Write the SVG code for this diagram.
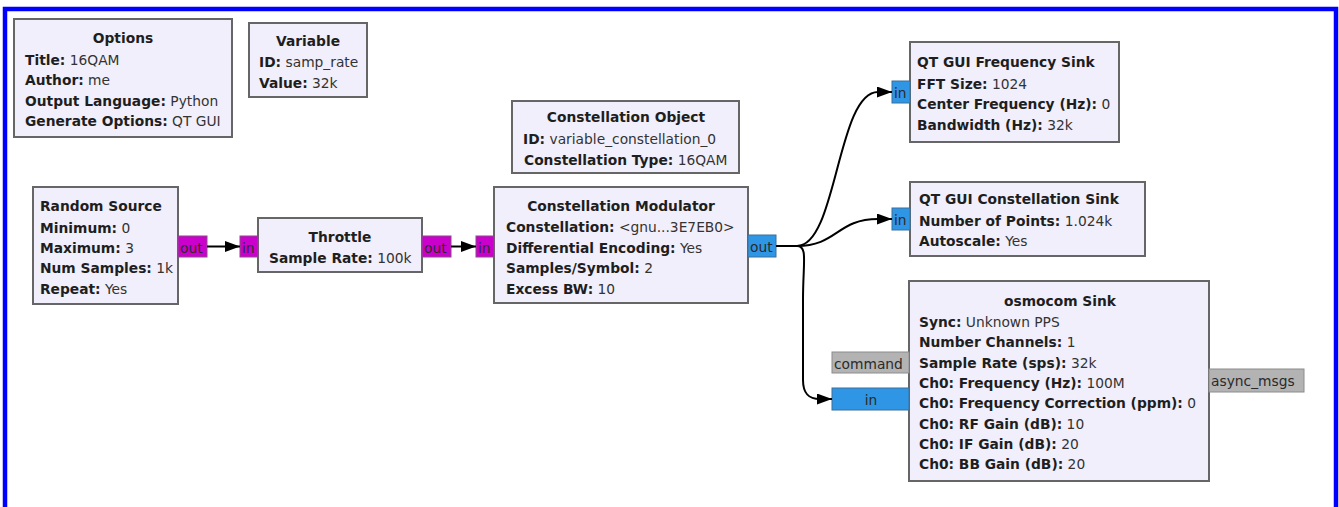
<svg xmlns="http://www.w3.org/2000/svg" width="1339" height="507" viewBox="0 0 1339 507">
  <defs>
    <marker id="arrow" viewBox="0 0 15 11" refX="15" refY="5.5" markerWidth="15" markerHeight="11" markerUnits="userSpaceOnUse" orient="auto">
      <path d="M0,0 L15,5.5 L0,11 Z" fill="#000"/>
    </marker>
  </defs>
  <style>
    text { font-family: "DejaVu Sans", "Liberation Sans", sans-serif; font-size: 13.8px; fill: #1e1e1e; }
    .blk rect { fill: #f1effb; stroke: #666; stroke-width: 2; }
    .t { font-weight: bold; text-anchor: middle; }
    .k { font-weight: bold; }
    .v { fill: #333; }
    .blk rect.pm { fill: #cc00cc; stroke: #8a4a8a; stroke-width: 1; }
    .blk rect.pc { fill: #2f96e6; stroke: #3a6f99; stroke-width: 1; }
    .blk rect.pg { fill: #b3b3b3; stroke: #8c8c8c; stroke-width: 1; }
    .pt { fill: #2a2a2a; }
    .wire { fill: none; stroke: #000; stroke-width: 2; }
  </style>

  <rect x="0" y="0" width="1339" height="507" fill="#fff"/>
  <rect id="frame" x="5" y="9" width="1331" height="510" fill="none" stroke="#0000ff" stroke-width="4.5"/>

  <g id="options" class="blk">
    <rect x="14" y="19" width="218" height="118"/>
    <text class="t" x="123" y="43">Options</text>
    <text x="25" y="64.5"><tspan class="k">Title:</tspan><tspan class="v"> 16QAM</tspan></text>
    <text x="25" y="85"><tspan class="k">Author:</tspan><tspan class="v"> me</tspan></text>
    <text x="25" y="105.5"><tspan class="k">Output Language:</tspan><tspan class="v"> Python</tspan></text>
    <text x="25" y="126"><tspan class="k">Generate Options:</tspan><tspan class="v"> QT GUI</tspan></text>
  </g>

  <g id="variable" class="blk">
    <rect x="249" y="23" width="118" height="74"/>
    <text class="t" x="308" y="46">Variable</text>
    <text x="259" y="67"><tspan class="k">ID:</tspan><tspan class="v"> samp_rate</tspan></text>
    <text x="259" y="87.5"><tspan class="k">Value:</tspan><tspan class="v"> 32k</tspan></text>
  </g>

  <g id="constellation_object" class="blk">
    <rect x="512" y="101" width="227" height="72"/>
    <text class="t" x="626" y="122">Constellation Object</text>
    <text x="523" y="144"><tspan class="k">ID:</tspan><tspan class="v"> variable_constellation_0</tspan></text>
    <text x="524" y="165"><tspan class="k">Constellation Type:</tspan><tspan class="v"> 16QAM</tspan></text>
  </g>

  <g id="random_source" class="blk">
    <rect x="33" y="187" width="145" height="117"/>
    <text x="40" y="211" class="k">Random Source</text>
    <text x="40" y="232.5"><tspan class="k">Minimum:</tspan><tspan class="v"> 0</tspan></text>
    <text x="40" y="253"><tspan class="k">Maximum:</tspan><tspan class="v"> 3</tspan></text>
    <text x="40" y="273"><tspan class="k">Num Samples:</tspan><tspan class="v"> 1k</tspan></text>
    <text x="40" y="293.5"><tspan class="k">Repeat:</tspan><tspan class="v"> Yes</tspan></text>
    <rect class="pm" x="178" y="236" width="29" height="21"/>
    <text class="pt" x="180" y="252.5">out</text>
  </g>

  <g id="throttle" class="blk">
    <rect x="258" y="218" width="164" height="54"/>
    <text class="t" x="340" y="242">Throttle</text>
    <text x="269" y="263"><tspan class="k">Sample Rate:</tspan><tspan class="v"> 100k</tspan></text>
    <rect class="pm" x="240" y="236" width="18" height="21"/>
    <text class="pt" x="242" y="252.5">in</text>
    <rect class="pm" x="422" y="236" width="29" height="21"/>
    <text class="pt" x="424" y="252.5">out</text>
  </g>

  <g id="constellation_modulator" class="blk">
    <rect x="494" y="187" width="254" height="116"/>
    <text class="t" x="621" y="211">Constellation Modulator</text>
    <text x="506" y="232"><tspan class="k">Constellation:</tspan><tspan class="v"> &lt;gnu...3E7EB0&gt;</tspan></text>
    <text x="506" y="252.5"><tspan class="k">Differential Encoding:</tspan><tspan class="v"> Yes</tspan></text>
    <text x="506" y="273"><tspan class="k">Samples/Symbol:</tspan><tspan class="v"> 2</tspan></text>
    <text x="506" y="293.5"><tspan class="k">Excess BW:</tspan><tspan class="v"> 10</tspan></text>
    <rect class="pm" x="476" y="236" width="18" height="21"/>
    <text class="pt" x="478" y="252.5">in</text>
    <rect class="pc" x="748" y="235" width="28" height="22"/>
    <text class="pt" x="750" y="252">out</text>
  </g>

  <g id="qtgui_freq_sink" class="blk">
    <rect x="910" y="42" width="209" height="100"/>
    <text x="917" y="67" class="k">QT GUI Frequency Sink</text>
    <text x="917" y="88.5"><tspan class="k">FFT Size:</tspan><tspan class="v"> 1024</tspan></text>
    <text x="917" y="109"><tspan class="k">Center Frequency (Hz):</tspan><tspan class="v"> 0</tspan></text>
    <text x="917" y="129.5"><tspan class="k">Bandwidth (Hz):</tspan><tspan class="v"> 32k</tspan></text>
    <rect class="pc" x="892" y="81" width="18" height="22"/>
    <text class="pt" x="894" y="97.5">in</text>
  </g>

  <g id="qtgui_const_sink" class="blk">
    <rect x="910" y="182" width="235" height="74"/>
    <text x="919" y="204" class="k">QT GUI Constellation Sink</text>
    <text x="919" y="225.5"><tspan class="k">Number of Points:</tspan><tspan class="v"> 1.024k</tspan></text>
    <text x="919" y="246"><tspan class="k">Autoscale:</tspan><tspan class="v"> Yes</tspan></text>
    <rect class="pc" x="892" y="208" width="18" height="22"/>
    <text class="pt" x="894" y="224.5">in</text>
  </g>

  <g id="osmocom_sink" class="blk">
    <rect x="909" y="281" width="300" height="200"/>
    <text class="t" x="1060" y="306">osmocom Sink</text>
    <text x="919" y="327"><tspan class="k">Sync:</tspan><tspan class="v"> Unknown PPS</tspan></text>
    <text x="919" y="347"><tspan class="k">Number Channels:</tspan><tspan class="v"> 1</tspan></text>
    <text x="919" y="367.5"><tspan class="k">Sample Rate (sps):</tspan><tspan class="v"> 32k</tspan></text>
    <text x="919" y="388"><tspan class="k">Ch0: Frequency (Hz):</tspan><tspan class="v"> 100M</tspan></text>
    <text x="919" y="408"><tspan class="k">Ch0: Frequency Correction (ppm):</tspan><tspan class="v"> 0</tspan></text>
    <text x="919" y="428.5"><tspan class="k">Ch0: RF Gain (dB):</tspan><tspan class="v"> 10</tspan></text>
    <text x="919" y="449"><tspan class="k">Ch0: IF Gain (dB):</tspan><tspan class="v"> 20</tspan></text>
    <text x="919" y="469"><tspan class="k">Ch0: BB Gain (dB):</tspan><tspan class="v"> 20</tspan></text>
    <rect class="pg" x="832" y="352" width="77" height="21"/>
    <text class="pt" x="834" y="368.5">command</text>
    <rect class="pc" x="832" y="388" width="77" height="22"/>
    <text class="pt" x="871" y="404.5" text-anchor="middle">in</text>
    <rect class="pg" x="1209" y="369" width="95" height="23"/>
    <text class="pt" x="1211" y="386">async_msgs</text>
  </g>

  <g id="connectors">
    <path class="wire" d="M207,246.5 H240" marker-end="url(#arrow)"/>
    <path class="wire" d="M451,246.5 H476" marker-end="url(#arrow)"/>
    <path class="wire" d="M776,246 H797 C837,246 837,92 878,92 H892" marker-end="url(#arrow)"/>
    <path class="wire" d="M776,246 H797 C837,246 837,219 878,219 H892" marker-end="url(#arrow)"/>
    <path class="wire" d="M776,246 H797 C808,246 803,262 803,300 V380 C803,393 808,399 820,399 H832" marker-end="url(#arrow)"/>
  </g>
</svg>
